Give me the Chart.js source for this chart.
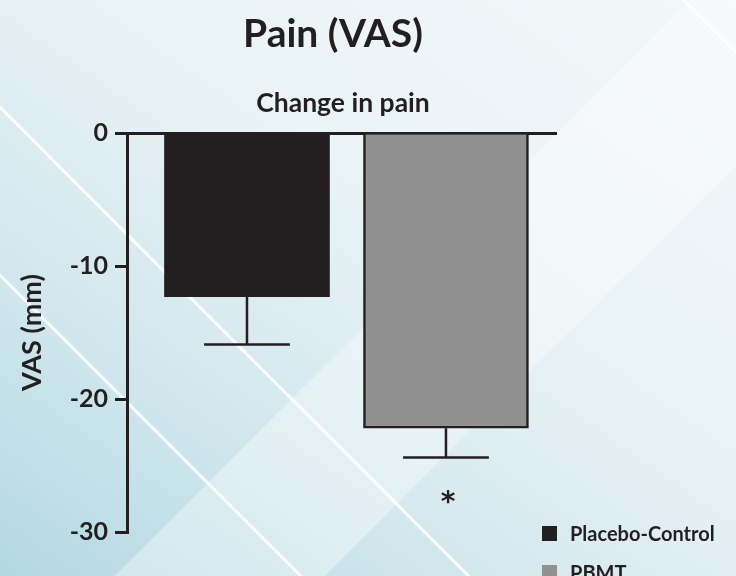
<!DOCTYPE html>
<html>
<head>
<meta charset="utf-8">
<script src="https://cdn.jsdelivr.net/npm/chart.js@4.4.1/dist/chart.umd.min.js"></script>
<style>
  html, body { margin: 0; padding: 0; }
  #wrap {
    position: relative; width: 736px; height: 576px; overflow: hidden;
    background:
      linear-gradient(45deg, transparent 22.7%, rgba(255,255,255,0.8) 22.8%, rgba(255,255,255,0.8) 23.05%, transparent 23.15%),
      linear-gradient(45deg, transparent 35.5%, rgba(255,255,255,0.85) 35.6%, rgba(255,255,255,0.85) 35.85%, transparent 35.95%),
      linear-gradient(45deg, transparent 95.8%, rgba(255,255,255,0.7) 95.9%, rgba(255,255,255,0.7) 96.15%, transparent 96.25%),
      linear-gradient(135deg, transparent 52.6%, rgba(255,255,255,0.35) 52.7%, rgba(255,255,255,0.35) 68.6%, transparent 68.7%),
      linear-gradient(215deg, #f3f8fa 0%, #eaf3f6 40%, #d3e8ee 70%, #b3d8e2 100%);
  }
  canvas { display: block; }
</style>
</head>
<body>
<div id="wrap"><canvas id="c" width="736" height="576"></canvas></div>
<script>
// ---- data ----
const chartTitle = 'Pain (VAS)';
const chartSubtitle = 'Change in pain';
const yAxisTitle = 'VAS (mm)';
const categories = ['Placebo-Control', 'PBMT'];
const meanChange = [-12.3, -22.2];       // bar values (mm)
const errorEnd = [-15.9, -24.4];         // end of error bar (mm)
const significance = ['', '*'];
const yTicks = [0, -10, -20, -30];
const barColors = ['#231f20', '#919191'];

const INK = '#231f20';
const FONT = 'Lato';
const W = 'bold';

const overlayPlugin = {
  id: 'overlay',
  afterDatasetsDraw(chart) {
    const ctx = chart.ctx;
    const meta = chart.getDatasetMeta(0);
    const y = chart.scales.y;
    ctx.save();
    ctx.strokeStyle = INK;
    ctx.lineWidth = 2.5;
    meta.data.forEach((bar, i) => {
      const x = bar.x;
      const yTop = bar.y;
      const yEnd = y.getPixelForValue(errorEnd[i]);
      const half = bar.width * 0.26;
      ctx.beginPath();
      ctx.moveTo(x, yTop);
      ctx.lineTo(x, yEnd);
      ctx.moveTo(x - half, yEnd);
      ctx.lineTo(x + half, yEnd);
      ctx.stroke();
      if (significance[i]) {
        ctx.fillStyle = INK;
        ctx.font = 'bold 28px "DejaVu Sans"';
        ctx.textAlign = 'center';
        ctx.textBaseline = 'alphabetic';
        ctx.fillText(significance[i], x + 2, yEnd + 53);
      }
    });
    ctx.restore();
  },
  afterDraw(chart) {
    const ctx = chart.ctx;
    const area = chart.chartArea;
    ctx.save();
    ctx.fillStyle = INK;
    ctx.textAlign = 'center';
    ctx.textBaseline = 'alphabetic';
    ctx.font = W + ' 39px ' + FONT;
    ctx.fillText(chartTitle, (area.left + area.right) / 2 - 9, 47);
    ctx.font = W + ' 26.5px ' + FONT;
    ctx.fillText(chartSubtitle, (area.left + area.right) / 2 + 1, 112);
    // legend
    ctx.textAlign = 'left';
    ctx.font = W + ' 20px ' + FONT;
    categories.forEach((name, i) => {
      const top = 526 + i * 39;
      ctx.fillStyle = barColors[i];
      ctx.fillRect(542, top, 15, 15);
      ctx.fillStyle = INK;
      ctx.fillText(name, 570, top + 14.5);
    });
    ctx.restore();
  }
};

new Chart(document.getElementById('c'), {
  type: 'bar',
  data: {
    datasets: [{
      label: chartSubtitle,
      data: categories.map((c, i) => ({ x: i + 1, y: meanChange[i] })),
      backgroundColor: barColors,
      borderColor: INK,
      borderWidth: [0, 2.5],
      barThickness: 165
    }]
  },
  plugins: [overlayPlugin],
  options: {
    responsive: false,
    animation: false,
    devicePixelRatio: 1,
    layout: { padding: { top: 133, right: 179, bottom: 44, left: 0 } },
    plugins: { legend: { display: false }, title: { display: false }, tooltip: { enabled: false } },
    scales: {
      x: { type: 'linear', min: 0.397, max: 2.558, offset: false, display: false },
      y: {
        min: -30, max: 0,
        z: 1,
        afterBuildTicks(scale) { scale.ticks = yTicks.map(v => ({ value: v })); },
        afterFit(scale) { scale.width = 127; },
        ticks: { color: INK, font: { family: FONT, weight: W, size: 25 }, padding: 7 },
        grid: {
          color: ctx => (ctx.tick && ctx.tick.value === 0) ? INK : 'rgba(0,0,0,0)',
          lineWidth: 3,
          tickColor: INK,
          tickWidth: 3,
          tickLength: 12
        },
        border: { display: true, color: INK, width: 3 },
        title: {
          display: true, text: yAxisTitle, color: INK,
          font: { family: FONT, weight: W, size: 27 },
          padding: { top: 16, bottom: 0 }
        }
      }
    }
  }
});
</script>
</body>
</html>
